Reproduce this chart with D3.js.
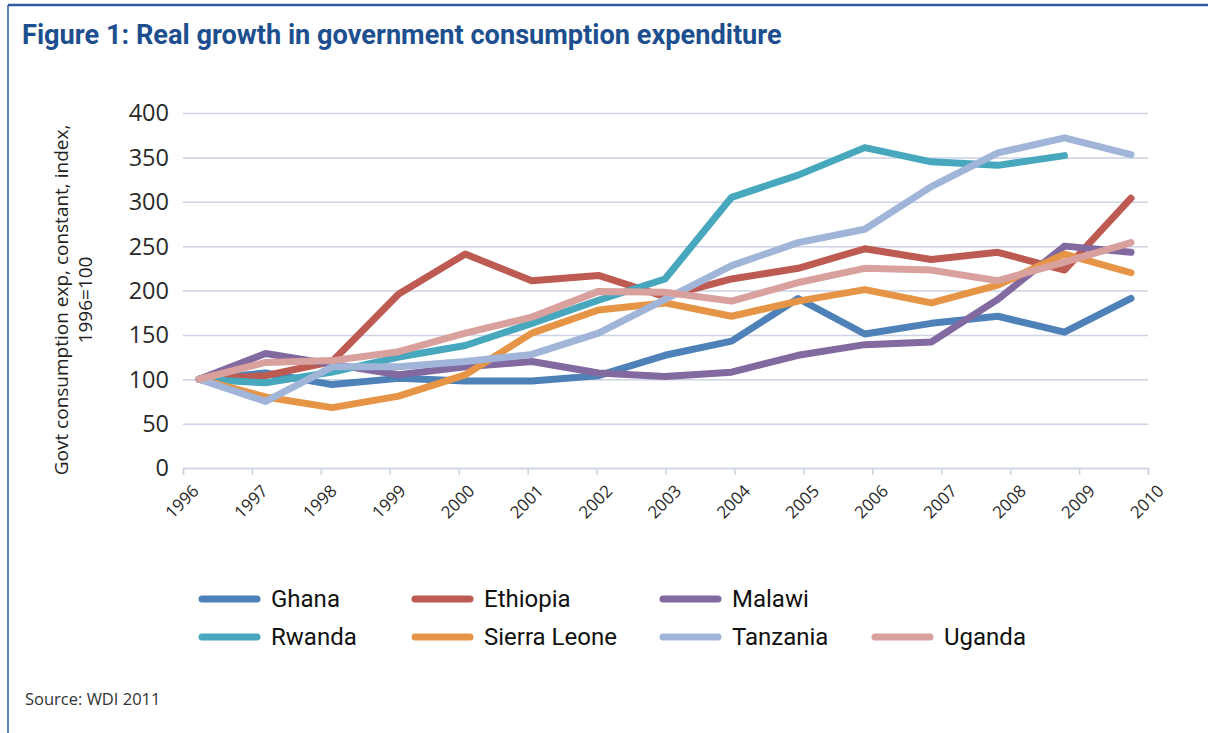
<!DOCTYPE html>
<html lang="en">
<head>
<meta charset="UTF-8">
<title>Real growth in government consumption expenditure</title>
<script src="https://d3js.org/d3.v7.min.js"></script>
<style>
  body { margin: 0; background: #fff; }
  svg { display: block; }
</style>
</head>
<body>
<svg width="1208" height="733"></svg>
<script>
// data (index, 1996 = 100)
var years = ["1996","1997","1998","1999","2000","2001","2002","2003","2004","2005","2006","2007","2008","2009","2010"];
var yTicks = [0, 50, 100, 150, 200, 250, 300, 350, 400];

var ghana       = [100, 107,  94, 101,  98,  98, 104, 127, 143, 191, 151, 163, 171, 153, 191];
var ethiopia    = [100, 104, 120, 196, 241, 211, 217, 193, 213, 225, 247, 235, 243, 223, 304];
var malawi      = [100, 129, 117, 105, 114, 120, 107, 103, 108, 127, 139, 142, 190, 250, 243];
var rwanda      = [100,  96, 108, 125, 138, 163, 189, 213, 305, 330, 361, 345, 341, 352, null];
var sierraLeone = [100,  80,  68,  81, 105, 152, 178, 186, 171, 188, 201, 186, 206, 241, 220];
var tanzania    = [100,  75, 114, 114, 120, 128, 152, 190, 228, 254, 269, 317, 355, 372, 353];
var uganda      = [100, 119, 121, 131, 152, 170, 199, 198, 188, 209, 225, 223, 211, 232, 254];

var series = [
  {name: "Ghana",        values: ghana,       color: "#4f81b9"},
  {name: "Ethiopia",     values: ethiopia,    color: "#bd5a52"},
  {name: "Malawi",       values: malawi,      color: "#8269a0"},
  {name: "Rwanda",       values: rwanda,      color: "#47a7bd"},
  {name: "Sierra Leone", values: sierraLeone, color: "#e69546"},
  {name: "Tanzania",     values: tanzania,    color: "#a0b5d8"},
  {name: "Uganda",       values: uganda,      color: "#d9a19e"}
];

var svg = d3.select("svg");
var condensed = "'Liberation Sans Narrow', 'Arial Narrow', 'Roboto', sans-serif";
var plain = "'Open Sans', 'Noto Sans', sans-serif";

// frame
svg.append("line").attr("x1", 8).attr("x2", 1208).attr("y1", 5).attr("y2", 5)
    .attr("stroke", "#2c5a9c").attr("stroke-width", 2.5);
svg.append("line").attr("x1", 8).attr("x2", 8).attr("y1", 5).attr("y2", 733)
    .attr("stroke", "#2c5a9c").attr("stroke-width", 1.5);

// title
var title = svg.append("text")
    .attr("x", 22).attr("y", 44)
    .attr("font-family", condensed)
    .attr("font-weight", "bold")
    .attr("font-size", 27)
    .attr("fill", "#1d4f8f")
    .text("Figure 1: Real growth in government consumption expenditure");
var tw = title.node().getComputedTextLength();
title.attr("font-size", 27 * 760 / tw);

// scales
var y = d3.scaleLinear().domain([0, 400]).range([468, 113]);
var x = d3.scalePoint().domain(years).range([199, 1131]);
// category axis (ticks and labels)
var xa = d3.scalePoint().domain(years).range([183, 1148]);

// gridlines
svg.append("g")
    .attr("transform", "translate(183,0)")
    .call(d3.axisLeft(y).tickValues(yTicks).tickSize(-965).tickFormat(""))
    .call(g => g.select(".domain").remove())
    .call(g => g.selectAll(".tick line").attr("stroke", "#cdd2e4").attr("stroke-width", 1.5));

// y labels
svg.append("g").selectAll("text")
    .data(yTicks)
    .enter().append("text")
    .attr("x", 169)
    .attr("y", d => y(d))
    .attr("dy", "0.36em")
    .attr("text-anchor", "end")
    .attr("font-family", plain)
    .attr("font-size", 23.5)
    .attr("fill", "#2a2a2a")
    .text(d => d);

// x axis
var xAxis = svg.append("g")
    .attr("transform", "translate(0," + y(0) + ")")
    .call(d3.axisBottom(xa).tickSize(7).tickFormat(""));
xAxis.select(".domain").attr("stroke", "#cdd2e4").attr("stroke-width", 1.5);
xAxis.selectAll(".tick line").attr("stroke", "#cdd2e4").attr("stroke-width", 1.5);

svg.append("g").selectAll("text")
    .data(years)
    .enter().append("text")
    .attr("transform", d => "translate(" + (xa(d) + 17) + ",492) rotate(-45)")
    .attr("text-anchor", "end")
    .attr("font-family", plain)
    .attr("font-size", 17)
    .attr("fill", "#2a2a2a")
    .text(d => d);

// y title
var yt = svg.append("text")
    .attr("transform", "translate(68,300) rotate(-90)")
    .attr("text-anchor", "middle")
    .attr("font-family", plain)
    .attr("font-size", 19)
    .attr("fill", "#222");
yt.append("tspan").attr("x", 0).attr("dy", 0).text("Govt consumption exp, constant, index,");
yt.append("tspan").attr("x", 0).attr("dy", 24).text("1996=100");

// lines
var line = d3.line()
    .defined(d => d != null)
    .x((d, i) => x(years[i]))
    .y(d => y(d));

svg.append("g").selectAll("path")
    .data(series)
    .enter().append("path")
    .attr("d", d => line(d.values))
    .attr("fill", "none")
    .attr("stroke", d => d.color)
    .attr("stroke-width", 7)
    .attr("stroke-linecap", "round")
    .attr("stroke-linejoin", "round");

// legend
var legendPos = [
  [199, 599], [412, 599], [660, 599],
  [199, 637], [412, 637], [660, 637], [872, 637]
];
var legend = svg.append("g").selectAll("g")
    .data(series)
    .enter().append("g")
    .attr("transform", (d, i) => "translate(" + legendPos[i][0] + "," + legendPos[i][1] + ")");
legend.append("line")
    .attr("x1", 3).attr("x2", 58)
    .attr("stroke", d => d.color)
    .attr("stroke-width", 7)
    .attr("stroke-linecap", "round");
legend.append("text")
    .attr("x", 72)
    .attr("dy", "0.35em")
    .attr("font-family", condensed)
    .attr("font-size", 24)
    .attr("fill", "#111")
    .text(d => d.name);

// source
svg.append("text")
    .attr("x", 25).attr("y", 705)
    .attr("font-family", plain)
    .attr("font-size", 16.5)
    .attr("fill", "#333")
    .text("Source: WDI 2011");
</script>
</body>
</html>
